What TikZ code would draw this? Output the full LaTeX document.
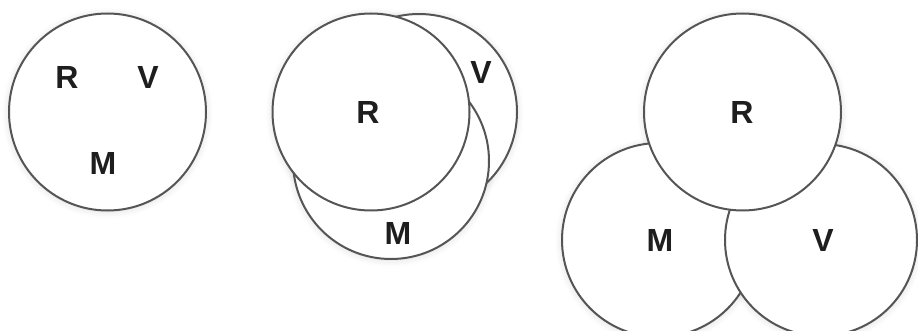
\documentclass[tikz,border=0pt]{standalone}
\usepackage{fontspec}
\setmainfont{Liberation Sans}
\usetikzlibrary{shadows.blur}
\definecolor{ringgray}{HTML}{555555}
\definecolor{lettergray}{HTML}{1E1E1E}
\begin{document}
\begin{tikzpicture}[x=1pt,y=-1pt,
  ring/.style={circle, draw=ringgray, line width=2pt, fill=white, inner sep=0pt, minimum size=#1},
  halo/.style={fill=white,
    blur shadow={shadow xshift=0pt, shadow yshift=-1pt, shadow blur radius=7pt, shadow opacity=14}},
  letter/.style={inner sep=0pt, text=lettergray, font=\fontsize{32}{32}\selectfont\bfseries}]
\useasboundingbox (0,0) rectangle (918,331);
% soft halos, drawn first so they fall only outside the circles
\path[halo] (107.5,112) circle[radius=98.5];
\path[halo] (419,112) circle[radius=98];
\path[halo] (391,161) circle[radius=98];
\path[halo] (371,112) circle[radius=98.5];
\path[halo] (659,240) circle[radius=97];
\path[halo] (821,240) circle[radius=96];
\path[halo] (742.5,112) circle[radius=98.5];
% left
\node[ring=197pt] (c1) at (107.5,112) {};
\node[letter] (l1r) at (67,77) {R};
\node[letter] (l1v) at (148,77) {V};
\node[letter] (l1m) at (103,163) {M};
% middle
\node[ring=196pt] (c2v) at (419,112) {};
\node[ring=196pt] (c2m) at (391,161) {};
\node[ring=197pt] (c2r) at (371,112) {};
\node[letter] (l2r) at (368,112) {R};
\node[letter] (l2v) at (481,72) {V};
\node[letter] (l2m) at (398,233) {M};
% right
\node[ring=194pt] (c3m) at (659,240) {};
\node[ring=192pt] (c3v) at (821,240) {};
\node[ring=197pt] (c3r) at (742.5,112) {};
\node[letter] (l3r) at (742,112) {R};
\node[letter] (l3m) at (660,240) {M};
\node[letter] (l3v) at (823,240) {V};
\end{tikzpicture}
\end{document}
